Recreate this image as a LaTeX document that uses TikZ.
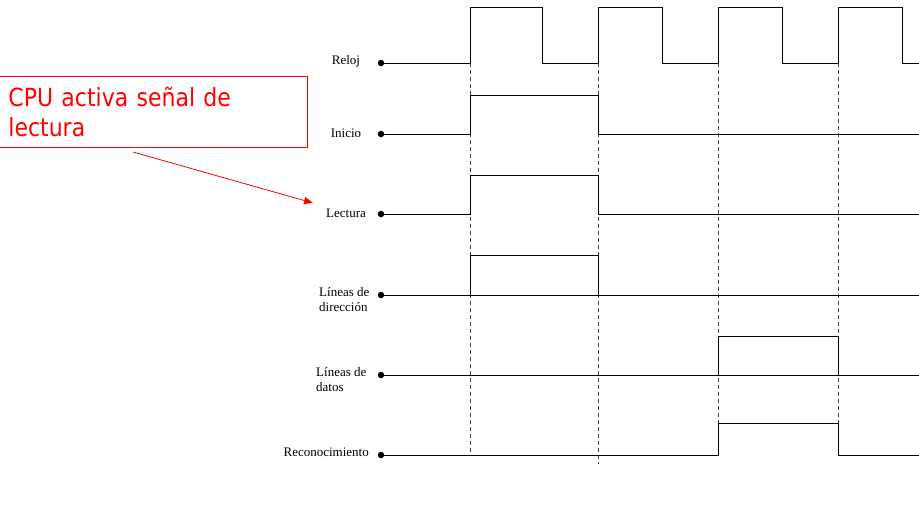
\documentclass[tikz,border=0pt]{standalone}
\usepackage{fontspec}
\setmainfont{Liberation Serif}
\newfontfamily\calloutfont[FakeStretch=0.88]{DejaVu Sans}
\usetikzlibrary{arrows.meta}

\begin{document}
\begin{tikzpicture}[x=1pt,y=-1pt,
  sig/.style={line width=1pt, line join=miter},
  guide/.style={line width=0.8pt, dash pattern=on 4pt off 3pt, black!75},
  lbl/.style={font=\fontsize{13}{15}\selectfont, inner sep=0pt},
  pin/.style={circle, fill=black, inner sep=0pt, minimum size=6.5pt},
  note/.style={draw=red, line width=0.8pt, text=red, align=left,
    font=\calloutfont\fontsize{25}{30}\selectfont,
    inner xsep=10pt, text width=289pt, minimum height=71pt},
  pointer/.style={red, line width=0.8pt, -{Triangle[length=9pt,width=7pt]}}]

\useasboundingbox (0,0) rectangle (919,522);
\clip (0,0) rectangle (919,522);

% signal names
\node[lbl] (lreloj) at (346,61) {Reloj};
\node[lbl] (linicio) at (346,133) {Inicio};
\node[lbl] (llectura) at (346,213) {Lectura};
\node[lbl, align=left, anchor=north west] (ldir) at (319,287) {Líneas de\\dirección};
\node[lbl, align=left, anchor=north west] (ldatos) at (316,367) {Líneas de\\datos};
\node[lbl, anchor=east] (lrec) at (369,452) {Reconocimiento};

% line start points
\node[pin] (p1) at (381,63) {};
\node[pin] (p2) at (381,134) {};
\node[pin] (p3) at (381,214) {};
\node[pin] (p4) at (381,295) {};
\node[pin] (p5) at (381,375) {};
\node[pin] (p6) at (381,455) {};

% clock edges carried down through the other signals
\draw[guide] (470,63) -- (470,456);
\draw[guide] (598,63) -- (598,464);
\draw[guide] (718,63) -- (718,456);
\draw[guide] (838,63) -- (838,456);

% Reloj
\draw[sig] (p1.center) -- (470,63) -- (470,7) -- (542,7) -- (542,63)
  -- (598,63) -- (598,7) -- (662,7) -- (662,63)
  -- (718,63) -- (718,7) -- (782,7) -- (782,63)
  -- (838,63) -- (838,7) -- (902,7) -- (902,63) -- (925,63);

% Inicio
\draw[sig] (p2.center) -- (470,134) -- (470,95) -- (598,95) -- (598,134) -- (925,134);

% Lectura
\draw[sig] (p3.center) -- (470,214) -- (470,175) -- (598,175) -- (598,214) -- (925,214);

% Lineas de direccion (bus)
\draw[sig] (p4.center) -- (925,295);
\draw[sig] (470,295) rectangle (598,255);

% Lineas de datos (bus)
\draw[sig] (p5.center) -- (925,375);
\draw[sig] (718,375) rectangle (838,336);

% Reconocimiento
\draw[sig] (p6.center) -- (718,455) -- (718,423) -- (838,423) -- (838,455) -- (925,455);

% callout
\node[note, anchor=north west] (cpu) at (-2,76) {CPU activa señal de\\lectura};
\coordinate (tail) at (133,152);
\coordinate (tip) at (313,203);
\draw[pointer] (tail) -- (tip);

\end{tikzpicture}
\end{document}
